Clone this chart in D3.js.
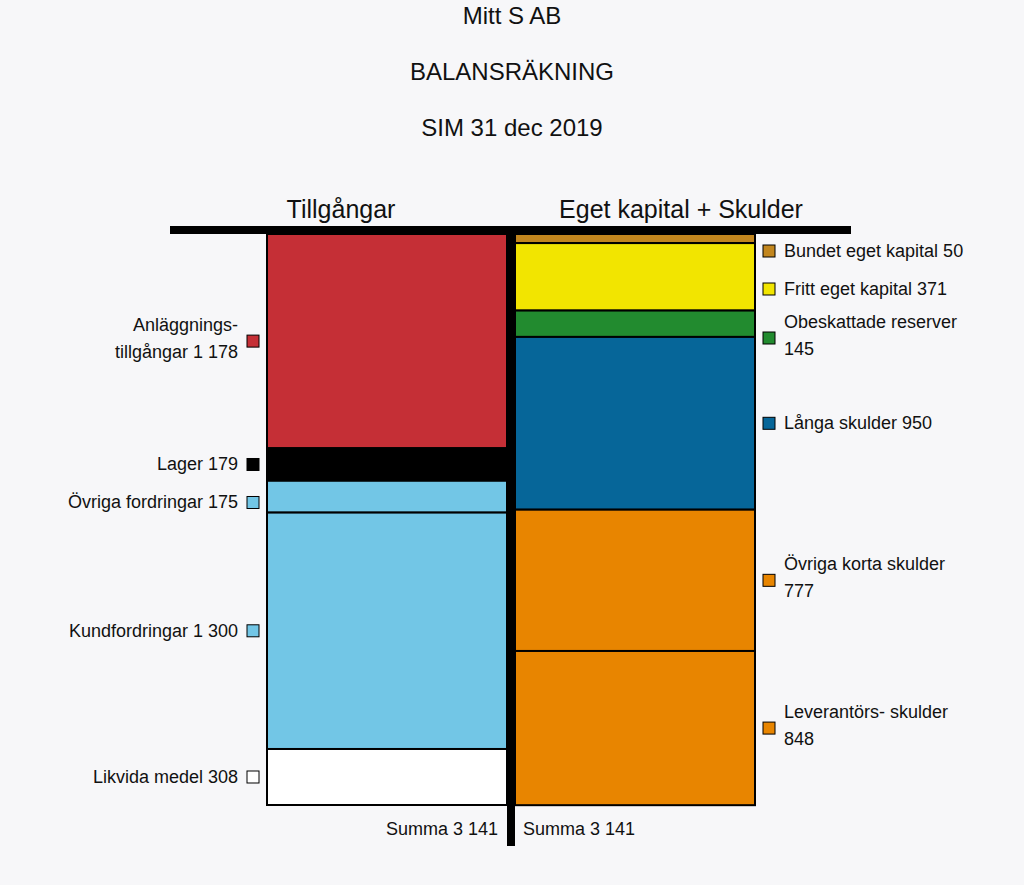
<!DOCTYPE html>
<html><head><meta charset="utf-8">
<script src="https://cdn.jsdelivr.net/npm/d3@7"></script>
<style>body{margin:0;background:#f7f7f9;font-family:"Liberation Sans",Arial,sans-serif}</style>
</head><body>
<script>
// DATA
var titles = ['Mitt S AB', 'BALANSRÄKNING', 'SIM 31 dec 2019']
var assetNames = [['Anläggnings-', 'tillgångar 1 178'], ['Lager 179'], ['Övriga fordringar 175'], ['Kundfordringar 1 300'], ['Likvida medel 308']]
var assetValues = [1178, 179, 175, 1300, 308]
var assetColors = ['#c52f36', '#000000', '#72c6e6', '#72c6e6', '#ffffff']
var debtNames = [['Bundet eget kapital 50'], ['Fritt eget kapital 371'], ['Obeskattade reserver', '145'], ['Långa skulder 950'], ['Övriga korta skulder', '777'], ['Leverantörs- skulder', '848']]
var debtValues = [50, 371, 145, 950, 777, 848]
var debtColors = ['#c2861e', '#f2e500', '#228b2f', '#066699', '#e88500', '#e88500']
var headers = ['Tillgångar', 'Eget kapital + Skulder']
var sumLabel = 'Summa 3 141'

var W = 1024, H = 885
var svg = d3.select('body').append('svg').attr('width', W).attr('height', H)

// TITLES
svg.selectAll('.title').data(titles).enter().append('text')
   .attr('x', 512).attr('y', (d, i) => 24 + i * 56)
   .attr('text-anchor', 'middle').attr('font-size', 24).attr('fill', '#111').text(d => d)

var total = d3.sum(assetValues)
var y = d3.scaleLinear().domain([0, total]).range([234, 805])

function stack(vals) {
   var acc = 0
   return vals.map(v => { var s = acc; acc += v; return [s, acc] })
}

function column(vals, colors, names, x0, x1, side) {
   var st = stack(vals)
   svg.append('g').selectAll('rect').data(st).enter().append('rect')
      .attr('x', x0).attr('width', x1 - x0)
      .attr('y', d => y(d[0])).attr('height', d => y(d[1]) - y(d[0]))
      .attr('fill', (d, i) => colors[i]).attr('stroke', '#000').attr('stroke-width', 2)

   // LABEL POSITIONS WITH SIMPLE COLLISION AVOIDANCE
   var prevBottom = 234 + 6
   st.forEach((d, i) => {
      var half = names[i].length > 1 ? 22 : 11
      var pos = Math.max((y(d[0]) + y(d[1])) / 2, prevBottom + half)
      prevBottom = pos + half + 16
      var sx = side === 'left' ? 247 : 763
      svg.append('rect').attr('x', sx).attr('y', pos - 6).attr('width', 12).attr('height', 12)
         .attr('fill', colors[i]).attr('stroke', '#000').attr('stroke-width', 1)
      var t = svg.append('text').attr('font-size', 18).attr('fill', '#111')
         .attr('text-anchor', side === 'left' ? 'end' : 'start')
      names[i].forEach((line, j) => {
         var ly = names[i].length > 1 ? pos - 10 + j * 27 : pos + 6
         t.append('tspan').attr('x', side === 'left' ? 238 : 784).attr('y', ly).text(line)
      })
   })
}

column(assetValues, assetColors, assetNames, 267, 507, 'left')
column(debtValues, debtColors, debtNames, 515, 755, 'right')

// T-ACCOUNT BARS
svg.append('rect').attr('x', 170).attr('y', 226).attr('width', 681).attr('height', 8).attr('fill', '#000')
svg.append('rect').attr('x', 507).attr('y', 226).attr('width', 8).attr('height', 620).attr('fill', '#000')

// HEADERS
svg.selectAll('.hdr').data(headers).enter().append('text')
   .attr('x', (d, i) => i ? 681 : 341).attr('y', 218)
   .attr('text-anchor', 'middle').attr('font-size', 25).attr('fill', '#111').text(d => d)

// SUMS
svg.append('text').attr('x', 498).attr('y', 835).attr('text-anchor', 'end').attr('font-size', 18).attr('fill', '#111').text(sumLabel)
svg.append('text').attr('x', 523).attr('y', 835).attr('font-size', 18).attr('fill', '#111').text(sumLabel)
</script>
</body></html>
